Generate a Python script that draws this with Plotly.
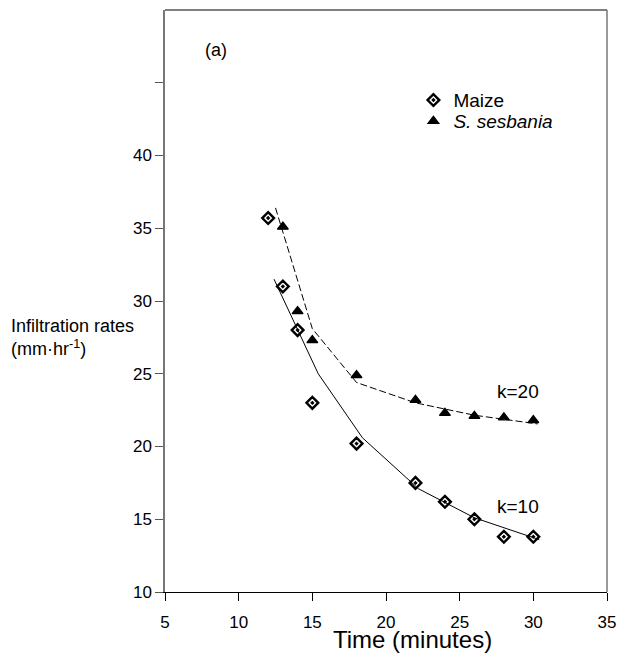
import plotly.graph_objects as go

# Observed data
maize_x = [12, 13, 14, 15, 18, 22, 24, 26, 28, 30]
maize_y = [35.7, 31.0, 28.0, 23.0, 20.2, 17.5, 16.2, 15.0, 13.8, 13.8]
sesbania_x = [13, 14, 15, 18, 22, 24, 26, 28, 30]
sesbania_y = [35.1, 29.3, 27.3, 24.9, 23.2, 22.3, 22.1, 22.0, 21.8]

# Fitted curves (k=10 maize, k=20 S. sesbania)
maize_fit_x = [12.4, 15.4, 18.4, 22.2, 26.0, 30.4]
maize_fit_y = [31.5, 25.0, 20.6, 17.1, 15.1, 13.6]
sesbania_fit_x = [12.5, 15.0, 18.0, 22.0, 26.0, 30.3]
sesbania_fit_y = [36.4, 28.1, 24.4, 23.0, 22.15, 21.55]

x_ticks = [5, 10, 15, 20, 25, 30, 35]
y_ticks = [10, 15, 20, 25, 30, 35, 40]
y_unlabelled_ticks = [45]

font_family = "Liberation Sans, Arial, sans-serif"

fig = go.Figure()

fig.add_trace(go.Scatter(
    x=maize_fit_x, y=maize_fit_y, mode="lines",
    line=dict(color="black", width=1), showlegend=False, hoverinfo="skip"))
fig.add_trace(go.Scatter(
    x=sesbania_fit_x, y=sesbania_fit_y, mode="lines",
    line=dict(color="black", width=1, dash="7px,3px"), showlegend=False, hoverinfo="skip"))

fig.add_trace(go.Scatter(
    x=maize_x, y=maize_y, mode="markers", name="Maize", legend="legend",
    marker=dict(symbol="diamond-open-dot", size=9, color="black",
                line=dict(color="black", width=2.4))))
fig.add_trace(go.Scatter(
    x=sesbania_x, y=sesbania_y, mode="markers", name="<i>S. sesbania</i>",
    legend="legend2",
    marker=dict(symbol="triangle-up", size=9.5, color="black",
                line=dict(color="black", width=1.2))))

fig.add_annotation(x=28.98, y=23.8, text="k=20", showarrow=False,
                   font=dict(size=19, color="black", family=font_family))
fig.add_annotation(x=28.97, y=15.85, text="k=10", showarrow=False,
                   font=dict(size=19, color="black", family=font_family))
fig.add_annotation(x=8.46, y=47.26, text="(a)", showarrow=False,
                   font=dict(size=18, color="black", family=font_family))

fig.add_annotation(xref="paper", yref="paper", x=-0.353, y=0.438,
                   xanchor="left", yanchor="middle", align="left", showarrow=False,
                   text="Infiltration rates<br>(mm·hr<sup>-1</sup>)",
                   font=dict(size=18, color="black", family=font_family))
fig.add_annotation(xref="paper", yref="paper", x=0.560, y=-0.082,
                   xanchor="center", yanchor="middle", showarrow=False,
                   text="Time (minutes)",
                   font=dict(size=24, color="black", family=font_family))

legend_common = dict(xanchor="left", yanchor="middle", bgcolor="rgba(0,0,0,0)",
                     font=dict(size=19, family=font_family, color="black"))

fig.update_layout(
    width=622, height=655,
    margin=dict(l=165, r=15, t=10, b=63, autoexpand=False),
    paper_bgcolor="white", plot_bgcolor="white",
    font=dict(family=font_family, size=17, color="black"),
    legend=dict(x=0.562, y=0.845, **legend_common),
    legend2=dict(x=0.562, y=0.809, **legend_common),
    xaxis=dict(range=[5, 35], tickvals=x_ticks, ticks="outside", ticklen=8,
               tickcolor="black", showline=True, linecolor="black", linewidth=1.2,
               mirror=False, showgrid=False, zeroline=False,
               ticklabelstandoff=6, tickfont=dict(size=17)),
    yaxis=dict(range=[10, 50], tickvals=y_ticks,
               ticks="outside", ticklen=8, tickcolor="#555555",
               minor=dict(tickvals=y_unlabelled_ticks, ticks="outside", ticklen=8,
                          tickcolor="#555555", showgrid=False),
               showline=True, linecolor="#777777", linewidth=1.5,
               mirror=False, showgrid=False, zeroline=False,
               tickfont=dict(size=17)),
    shapes=[
        dict(type="line", xref="paper", yref="paper", x0=0, x1=1, y0=1, y1=1,
             line=dict(color="black", width=1.2)),
        dict(type="line", xref="paper", yref="paper", x0=1, x1=1, y0=0, y1=1,
             line=dict(color="#777777", width=1.5)),
    ],
)

fig.write_html("out.html", config={"displayModeBar": False},
               post_script="document.body.style.margin='0px';document.body.style.overflow='hidden';")
